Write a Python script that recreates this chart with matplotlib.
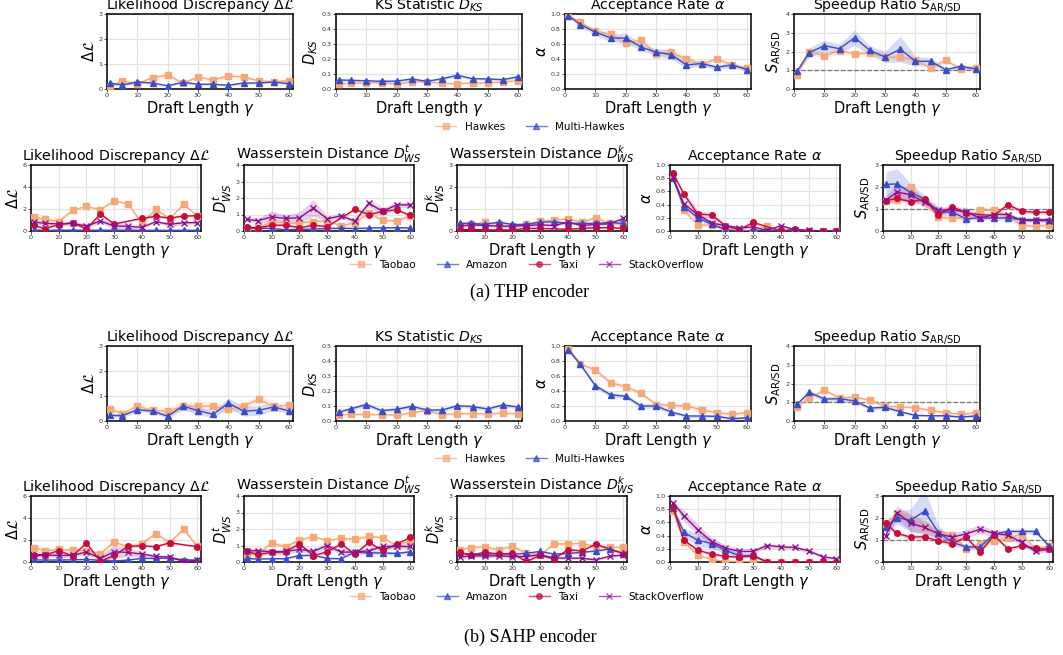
import numpy as np
import matplotlib
matplotlib.use("Agg")
import matplotlib.pyplot as plt
from matplotlib.lines import Line2D

nan = float("nan")
gamma = [1, 5, 10, 15, 20, 25, 30, 35, 40, 45, 50, 55, 60]
xticks = [0, 10, 20, 30, 40, 50, 60]

# ---------------- THP encoder, synthetic (Hawkes / Multi-Hawkes) ----------------
thp_syn_dl_hawkes = [0.10, 0.33, 0.20, 0.46, 0.55, 0.24, 0.47, 0.37, 0.52, 0.48, 0.32, 0.30, 0.33]
thp_syn_dl_hawkes_sd = [0.04, 0.08, 0.08, 0.10, 0.12, 0.06, 0.08, 0.06, 0.12, 0.08, 0.06, 0.05, 0.05]
thp_syn_dl_multi = [0.24, 0.16, 0.28, 0.24, 0.13, 0.27, 0.19, 0.19, 0.15, 0.24, 0.24, 0.28, 0.21]
thp_syn_dl_multi_sd = [0.05, 0.05, 0.06, 0.04, 0.04, 0.05, 0.04, 0.04, 0.04, 0.04, 0.04, 0.04, 0.04]

thp_syn_ks_hawkes = [0.033, 0.040, 0.040, 0.042, 0.033, 0.049, 0.047, 0.038, 0.036, 0.040, 0.042, 0.047, 0.055]
thp_syn_ks_hawkes_sd = [0.006, 0.006, 0.006, 0.006, 0.006, 0.007, 0.006, 0.006, 0.006, 0.006, 0.006, 0.006, 0.008]
thp_syn_ks_multi = [0.060, 0.058, 0.055, 0.051, 0.053, 0.067, 0.051, 0.069, 0.091, 0.069, 0.067, 0.062, 0.082]
thp_syn_ks_multi_sd = [0.008, 0.008, 0.008, 0.007, 0.007, 0.008, 0.007, 0.008, 0.010, 0.008, 0.008, 0.008, 0.010]

thp_syn_acc_hawkes = [0.98, 0.89, 0.77, 0.73, 0.61, 0.65, 0.47, 0.49, 0.40, 0.33, 0.40, 0.32, 0.28]
thp_syn_acc_hawkes_sd = [0.01, 0.02, 0.03, 0.03, 0.04, 0.04, 0.04, 0.05, 0.05, 0.03, 0.03, 0.03, 0.03]
thp_syn_acc_multi = [0.98, 0.86, 0.76, 0.68, 0.68, 0.56, 0.49, 0.46, 0.32, 0.34, 0.29, 0.32, 0.26]
thp_syn_acc_multi_sd = [0.01, 0.03, 0.04, 0.05, 0.07, 0.04, 0.05, 0.06, 0.04, 0.04, 0.03, 0.03, 0.03]

thp_syn_sp_hawkes = [0.76, 2.00, 1.76, 2.04, 1.87, 1.92, 1.71, 1.69, 1.56, 1.12, 1.53, 1.07, 1.12]
thp_syn_sp_hawkes_sd = [0.08, 0.15, 0.15, 0.18, 0.15, 0.15, 0.12, 0.12, 0.15, 0.10, 0.12, 0.08, 0.10]
thp_syn_sp_multi = [0.94, 1.94, 2.31, 2.15, 2.74, 2.06, 1.71, 2.13, 1.48, 1.48, 1.03, 1.21, 1.07]
thp_syn_sp_multi_sd = [0.10, 0.25, 0.30, 0.25, 0.40, 0.25, 0.30, 0.70, 0.25, 0.20, 0.10, 0.12, 0.10]

# ---------------- THP encoder, real data ----------------
thp_real_dl_taobao = [1.27, 1.06, 0.85, 1.88, 2.24, 1.94, 2.73, 2.48, 0.70, 1.97, 1.12, 2.42, 1.36]
thp_real_dl_taobao_sd = [0.25, 0.45, 0.30, 0.15, 0.10, 0.10, 0.10, 0.10, 0.15, 0.15, 0.10, 0.10, 0.10]
thp_real_dl_amazon = [0.10, 0.06, 0.08, 0.08, 0.06, 0.08, 0.06, 0.08, 0.06, 0.06, 0.06, 0.06, 0.06]
thp_real_dl_amazon_sd = [0.04, 0.04, 0.04, 0.04, 0.04, 0.04, 0.04, 0.04, 0.04, 0.04, 0.04, 0.04, 0.04]
thp_real_dl_taxi = [0.52, 0.21, 0.58, 0.76, 0.18, 1.55, 0.64, nan, 1.15, 1.33, 1.18, 1.36, 1.39]
thp_real_dl_taxi_sd = [0.15, 0.10, 0.10, 0.10, 0.10, 0.15, 0.10, 0.10, 0.10, 0.10, 0.10, 0.10, 0.10]
thp_real_dl_so = [0.82, 0.70, 0.64, 0.70, 0.45, 0.91, 0.45, 0.42, 0.33, 0.85, 0.60, 0.76, 0.76]
thp_real_dl_so_sd = [0.15, 0.15, 0.15, 0.20, 0.20, 0.15, 0.30, 0.20, 0.15, 0.10, 0.20, 0.15, 0.10]

thp_real_wst_taobao = [0.16, 0.16, 0.57, 0.47, 0.49, 0.57, 0.62, 0.31, 0.51, 1.09, 0.64, 0.62, 0.90]
thp_real_wst_taobao_sd = [0.10, 0.10, 0.12, 0.10, 0.10, 0.10, 0.10, 0.10, 0.15, 0.15, 0.10, 0.10, 0.10]
thp_real_wst_amazon = [0.15, 0.18, 0.15, 0.08, 0.10, 0.12, 0.15, 0.17, 0.15, 0.18, 0.20, 0.20, 0.18]
thp_real_wst_amazon_sd = [0.05, 0.05, 0.05, 0.05, 0.05, 0.05, 0.05, 0.05, 0.05, 0.05, 0.06, 0.06, 0.05]
thp_real_wst_taxi = [0.25, 0.18, 0.35, 0.35, 0.20, 0.35, 0.27, nan, 1.31, 1.00, 1.19, 1.29, 0.94]
thp_real_wst_taxi_sd = [0.08, 0.08, 0.08, 0.08, 0.08, 0.08, 0.08, 0.08, 0.08, 0.08, 0.08, 0.08, 0.08]
thp_real_wst_so = [0.70, 0.62, 0.86, 0.76, 0.80, 1.39, 0.74, 0.92, 0.60, 1.68, 1.19, 1.58, 1.58]
thp_real_wst_so_sd = [0.15, 0.15, 0.35, 0.20, 0.35, 0.50, 0.15, 0.15, 0.10, 0.20, 0.25, 0.15, 0.15]

thp_real_wsk_taobao = [0.25, 0.30, 0.40, 0.30, 0.20, 0.30, 0.45, 0.50, 0.55, 0.40, 0.60, 0.35, 0.30]
thp_real_wsk_taobao_sd = [0.06, 0.06, 0.06, 0.06, 0.06, 0.06, 0.08, 0.08, 0.08, 0.06, 0.08, 0.06, 0.06]
thp_real_wsk_amazon = [0.35, 0.35, 0.30, 0.40, 0.30, 0.30, 0.40, 0.42, 0.35, 0.35, 0.35, 0.38, 0.35]
thp_real_wsk_amazon_sd = [0.05, 0.05, 0.05, 0.05, 0.05, 0.05, 0.05, 0.05, 0.05, 0.05, 0.05, 0.05, 0.05]
thp_real_wsk_taxi = [0.05, 0.08, 0.05, 0.05, 0.05, 0.12, 0.12, nan, 0.08, 0.12, 0.15, 0.15, 0.12]
thp_real_wsk_taxi_sd = [0.04, 0.04, 0.04, 0.04, 0.04, 0.04, 0.04, 0.04, 0.04, 0.04, 0.04, 0.04, 0.04]
thp_real_wsk_so = [0.22, 0.28, 0.25, 0.22, 0.22, 0.25, 0.28, 0.25, 0.40, 0.25, 0.30, 0.33, 0.57]
thp_real_wsk_so_sd = [0.06, 0.06, 0.06, 0.06, 0.06, 0.06, 0.06, 0.06, 0.06, 0.06, 0.06, 0.06, 0.06]

thp_real_acc_taobao = [0.85, 0.32, 0.09, 0.09, 0.05, 0.02, 0.00, 0.08, 0.00, 0.00, 0.00, 0.00, 0.00]
thp_real_acc_taobao_sd = [0.03, 0.04, 0.02, 0.02, 0.02, 0.01, 0.01, 0.02, 0.01, 0.01, 0.01, 0.01, 0.01]
thp_real_acc_amazon = [0.80, 0.37, 0.20, 0.10, 0.02, 0.00, 0.00, 0.00, 0.00, 0.00, 0.00, 0.00, 0.00]
thp_real_acc_amazon_sd = [0.04, 0.05, 0.04, 0.03, 0.02, 0.01, 0.01, 0.01, 0.01, 0.01, 0.01, 0.01, 0.01]
thp_real_acc_taxi = [0.88, 0.56, 0.26, 0.24, 0.08, 0.02, 0.13, nan, 0.00, 0.03, 0.00, 0.00, 0.00]
thp_real_acc_taxi_sd = [0.02, 0.05, 0.05, 0.04, 0.03, 0.02, 0.02, 0.02, 0.01, 0.01, 0.01, 0.01, 0.01]
thp_real_acc_so = [0.82, 0.41, 0.25, 0.12, 0.08, 0.05, 0.06, 0.01, 0.08, 0.02, 0.01, 0.00, 0.00]
thp_real_acc_so_sd = [0.03, 0.04, 0.04, 0.03, 0.03, 0.02, 0.03, 0.01, 0.02, 0.01, 0.01, 0.01, 0.01]

thp_real_sp_taobao = [1.35, 1.40, 2.00, 1.30, 0.62, 0.58, 0.60, 0.95, 0.95, 0.68, 0.25, 0.22, 0.27]
thp_real_sp_taobao_sd = [0.10, 0.10, 0.10, 0.15, 0.10, 0.10, 0.10, 0.10, 0.10, 0.10, 0.08, 0.08, 0.08]
thp_real_sp_amazon = [2.12, 2.14, 1.75, 1.45, 0.88, 0.85, 0.55, 0.60, 0.58, 0.60, 0.52, 0.52, 0.52]
thp_real_sp_amazon_sd = [0.55, 0.70, 0.40, 0.20, 0.20, 0.15, 0.10, 0.10, 0.10, 0.10, 0.08, 0.08, 0.08]
thp_real_sp_taxi = [1.38, 1.48, 1.33, 1.45, 0.72, 1.10, 0.80, nan, 0.70, 1.20, 0.90, 0.85, 0.85]
thp_real_sp_taxi_sd = [0.10, 0.10, 0.10, 0.10, 0.10, 0.10, 0.10, 0.10, 0.10, 0.10, 0.08, 0.08, 0.08]
thp_real_sp_so = [1.40, 1.77, 1.65, 1.30, 0.95, 0.95, 0.88, 0.58, 0.75, 0.75, 0.48, 0.48, 0.47]
thp_real_sp_so_sd = [0.20, 0.35, 0.30, 0.20, 0.15, 0.15, 0.20, 0.10, 0.10, 0.10, 0.08, 0.08, 0.08]

# ---------------- SAHP encoder, synthetic ----------------
sahp_syn_dl_hawkes = [0.49, 0.29, 0.59, 0.43, 0.39, 0.59, 0.59, 0.59, 0.47, 0.59, 0.87, 0.59, 0.63]
sahp_syn_dl_hawkes_sd = [0.10, 0.10, 0.12, 0.12, 0.15, 0.20, 0.20, 0.15, 0.15, 0.15, 0.12, 0.12, 0.10]
sahp_syn_dl_multi = [0.23, 0.21, 0.45, 0.40, 0.19, 0.60, 0.41, 0.27, 0.72, 0.39, 0.43, 0.56, 0.40]
sahp_syn_dl_multi_sd = [0.08, 0.08, 0.08, 0.08, 0.08, 0.15, 0.15, 0.15, 0.20, 0.20, 0.20, 0.15, 0.08]

sahp_syn_ks_hawkes = [0.042, 0.044, 0.044, 0.042, 0.038, 0.056, 0.069, 0.042, 0.049, 0.049, 0.047, 0.053, 0.047]
sahp_syn_ks_hawkes_sd = [0.008, 0.008, 0.008, 0.008, 0.008, 0.008, 0.008, 0.008, 0.008, 0.008, 0.008, 0.008, 0.008]
sahp_syn_ks_multi = [0.060, 0.082, 0.110, 0.069, 0.078, 0.098, 0.073, 0.073, 0.102, 0.096, 0.080, 0.107, 0.093]
sahp_syn_ks_multi_sd = [0.010, 0.012, 0.014, 0.012, 0.012, 0.012, 0.010, 0.012, 0.012, 0.012, 0.012, 0.012, 0.012]

sahp_syn_acc_hawkes = [0.98, 0.76, 0.68, 0.51, 0.46, 0.37, 0.22, 0.21, 0.20, 0.15, 0.11, 0.09, 0.11]
sahp_syn_acc_hawkes_sd = [0.01, 0.03, 0.03, 0.03, 0.03, 0.03, 0.03, 0.03, 0.03, 0.03, 0.03, 0.03, 0.03]
sahp_syn_acc_multi = [0.95, 0.76, 0.47, 0.35, 0.33, 0.20, 0.20, 0.12, 0.067, 0.067, 0.062, 0.03, 0.044]
sahp_syn_acc_multi_sd = [0.02, 0.03, 0.03, 0.03, 0.03, 0.03, 0.03, 0.02, 0.02, 0.02, 0.02, 0.02, 0.02]

sahp_syn_sp_hawkes = [0.76, 1.23, 1.64, 1.23, 1.28, 1.10, 0.78, 0.75, 0.71, 0.57, 0.44, 0.36, 0.43]
sahp_syn_sp_hawkes_sd = [0.08, 0.10, 0.12, 0.10, 0.10, 0.10, 0.10, 0.08, 0.08, 0.08, 0.08, 0.08, 0.08]
sahp_syn_sp_multi = [0.89, 1.53, 1.17, 1.19, 1.07, 0.69, 0.73, 0.50, 0.30, 0.28, 0.28, 0.21, 0.27]
sahp_syn_sp_multi_sd = [0.08, 0.12, 0.12, 0.12, 0.10, 0.10, 0.10, 0.08, 0.06, 0.06, 0.06, 0.06, 0.06]

# ---------------- SAHP encoder, real data ----------------
sahp_real_dl_taobao = [1.30, 1.02, 1.14, 1.08, 1.02, 0.75, 1.84, 1.33, 1.66, 2.59, 1.75, 2.98, 1.42]
sahp_real_dl_taobao_sd = [0.30, 0.30, 0.20, 0.20, 0.20, 0.15, 0.20, 0.20, 0.20, 0.20, 0.25, 0.20, 0.20]
sahp_real_dl_amazon = [0.20, 0.18, 0.18, 0.20, 0.24, 0.15, 0.09, 0.18, 0.33, 0.33, 0.36, 0.20, 0.18]
sahp_real_dl_amazon_sd = [0.06, 0.06, 0.06, 0.06, 0.06, 0.06, 0.06, 0.06, 0.06, 0.06, 0.06, 0.06, 0.06]
sahp_real_dl_taxi = [0.66, 0.66, 1.02, 0.57, 1.72, 0.06, 0.60, 1.42, 1.48, 1.39, 1.75, nan, 1.39]
sahp_real_dl_taxi_sd = [0.10, 0.10, 0.10, 0.10, 0.10, 0.10, 0.10, 0.10, 0.10, 0.10, 0.10, 0.10, 0.10]
sahp_real_dl_so = [0.57, 0.63, 0.60, 0.60, 0.90, 0.33, 0.93, 0.87, 0.72, 0.51, 0.45, 0.06, 0.15]
sahp_real_dl_so_sd = [0.20, 0.20, 0.20, 0.20, 0.20, 0.30, 0.60, 0.40, 0.20, 0.15, 0.15, 0.05, 0.05]

sahp_real_wst_taobao = [0.44, 0.48, 1.15, 0.92, 1.33, 1.53, 1.29, 1.43, 1.37, 1.55, 1.47, 1.00, 1.29]
sahp_real_wst_taobao_sd = [0.15, 0.15, 0.15, 0.15, 0.20, 0.10, 0.10, 0.10, 0.20, 0.10, 0.10, 0.10, 0.10]
sahp_real_wst_amazon = [0.22, 0.18, 0.20, 0.20, 0.40, 0.40, 0.22, 0.20, 0.60, 0.56, 0.55, 0.52, 0.62]
sahp_real_wst_amazon_sd = [0.05, 0.05, 0.05, 0.05, 0.06, 0.06, 0.05, 0.05, 0.10, 0.10, 0.10, 0.10, 0.10]
sahp_real_wst_taxi = [0.64, 0.46, 0.58, 0.62, 1.11, 0.38, 0.62, 1.09, 0.48, 1.19, 0.70, 1.09, 1.49]
sahp_real_wst_taxi_sd = [0.08, 0.08, 0.08, 0.08, 0.08, 0.08, 0.08, 0.08, 0.08, 0.08, 0.08, 0.08, 0.08]
sahp_real_wst_so = [0.68, 0.68, 0.62, 0.64, 0.76, 0.64, 1.00, 0.60, 0.60, 0.68, 0.94, 0.94, 0.94]
sahp_real_wst_so_sd = [0.15, 0.15, 0.15, 0.15, 0.15, 0.15, 0.15, 0.15, 0.15, 0.15, 0.15, 0.15, 0.15]

sahp_real_wsk_taobao = [0.55, 0.65, 0.70, 0.55, 0.72, 0.40, 0.32, 0.81, 0.83, 0.84, 0.71, 0.66, 0.68]
sahp_real_wsk_taobao_sd = [0.10, 0.10, 0.10, 0.10, 0.10, 0.10, 0.10, 0.08, 0.08, 0.08, 0.08, 0.08, 0.08]
sahp_real_wsk_amazon = [0.40, 0.35, 0.35, 0.40, 0.35, 0.40, 0.48, 0.36, 0.39, 0.44, 0.50, 0.59, 0.39]
sahp_real_wsk_amazon_sd = [0.05, 0.05, 0.05, 0.05, 0.05, 0.05, 0.05, 0.05, 0.05, 0.05, 0.05, 0.05, 0.05]
sahp_real_wsk_taxi = [0.45, 0.30, 0.45, 0.35, 0.40, 0.02, 0.30, 0.15, 0.56, 0.50, 0.81, nan, 0.38]
sahp_real_wsk_taxi_sd = [0.06, 0.06, 0.06, 0.06, 0.06, 0.06, 0.06, 0.06, 0.06, 0.06, 0.06, 0.06, 0.06]
sahp_real_wsk_so = [0.22, 0.28, 0.28, 0.28, 0.25, 0.25, 0.33, 0.18, 0.18, 0.17, 0.10, 0.26, 0.32]
sahp_real_wsk_so_sd = [0.08, 0.08, 0.08, 0.08, 0.08, 0.08, 0.08, 0.06, 0.06, 0.06, 0.05, 0.06, 0.06]

sahp_real_acc_taobao = [0.78, 0.31, 0.10, 0.04, 0.01, 0.005, 0.00, 0.00, 0.00, 0.00, 0.00, 0.00, 0.00]
sahp_real_acc_taobao_sd = [0.03, 0.03, 0.02, 0.01, 0.01, 0.01, 0.01, 0.01, 0.01, 0.01, 0.01, 0.01, 0.01]
sahp_real_acc_amazon = [0.82, 0.45, 0.33, 0.28, 0.18, 0.09, 0.10, 0.00, 0.00, 0.00, 0.00, 0.00, 0.00]
sahp_real_acc_amazon_sd = [0.03, 0.06, 0.10, 0.08, 0.05, 0.03, 0.03, 0.01, 0.01, 0.01, 0.01, 0.01, 0.01]
sahp_real_acc_taxi = [0.83, 0.33, 0.18, 0.12, 0.085, 0.075, 0.095, 0.00, 0.00, 0.00, 0.00, 0.00, 0.00]
sahp_real_acc_taxi_sd = [0.03, 0.03, 0.02, 0.02, 0.02, 0.02, 0.02, 0.01, 0.01, 0.01, 0.01, 0.01, 0.01]
sahp_real_acc_so = [0.90, 0.70, 0.49, 0.31, 0.21, 0.16, 0.16, 0.25, 0.23, 0.22, 0.17, 0.08, 0.05]
sahp_real_acc_so_sd = [0.03, 0.08, 0.08, 0.06, 0.05, 0.05, 0.04, 0.03, 0.03, 0.03, 0.03, 0.02, 0.02]

sahp_real_sp_taobao = [1.75, 2.20, 1.90, 1.60, 1.30, 1.25, 0.60, 0.80, 0.95, 1.10, 1.25, 0.60, 0.72]
sahp_real_sp_taobao_sd = [0.15, 0.20, 0.15, 0.15, 0.10, 0.10, 0.10, 0.10, 0.10, 0.10, 0.10, 0.10, 0.10]
sahp_real_sp_amazon = [1.58, 2.02, 1.90, 2.31, 1.34, 0.89, 0.69, 0.68, 1.27, 1.39, 1.39, 1.39, 0.71]
sahp_real_sp_amazon_sd = [0.20, 0.30, 0.50, 1.00, 0.30, 0.15, 0.10, 0.15, 0.15, 0.10, 0.10, 0.10, 0.10]
sahp_real_sp_taxi = [1.76, 1.30, 1.13, 1.15, 0.95, 0.84, 1.13, 0.44, 1.22, 0.60, 0.74, 0.63, 0.57]
sahp_real_sp_taxi_sd = [0.10, 0.10, 0.10, 0.10, 0.08, 0.08, 0.08, 0.08, 0.08, 0.08, 0.08, 0.08, 0.08]
sahp_real_sp_so = [1.20, 2.25, 1.76, 1.57, 1.28, 1.13, 1.28, 1.49, 1.30, 1.22, 0.89, 0.48, 0.60]
sahp_real_sp_so_sd = [0.20, 0.30, 0.40, 0.30, 0.20, 0.20, 0.20, 0.20, 0.15, 0.15, 0.15, 0.10, 0.10]

# ---------------- styling ----------------
C_OR = "#F5A878"
C_BL = "#3B4CC8"
C_RD = "#C80C3C"
C_PU = "#8E0F8E"

syn_names = ["Hawkes", "Multi-Hawkes"]
syn_styles = [(C_OR, "s"), (C_BL, "^")]
real_names = ["Taobao", "Amazon", "Taxi", "StackOverflow"]
real_styles = [(C_OR, "s"), (C_BL, "^"), (C_RD, "o"), (C_PU, "x")]

W, H = 1063, 655
fig = plt.figure(figsize=(W / 100, H / 100), dpi=100)
plt.rcParams["mathtext.fontset"] = "dejavusans"

T_DL = r"Likelihood Discrepancy $\Delta\mathcal{L}$"
T_KS = r"KS Statistic $D_{KS}$"
T_AC = r"Acceptance Rate $\alpha$"
T_SP = r"Speedup Ratio $S_{\mathrm{AR/SD}}$"
T_WT = r"Wasserstein Distance $D_{WS}^{t}$"
T_WK = r"Wasserstein Distance $D_{WS}^{k}$"
Y_DL = r"$\Delta\mathcal{L}$"
Y_KS = r"$D_{KS}$"
Y_AC = r"$\alpha$"
Y_SP = r"$S_{\mathrm{AR/SD}}$"
Y_WT = r"$D_{WS}^{t}$"
Y_WK = r"$D_{WS}^{k}$"


def make_ax(left, top, bottom, width):
    return fig.add_axes([left / W, 1 - bottom / H, width / W, (bottom - top) / H])


def panel(ax, series, styles, ylim, yticks, title, ylabel, hline=False):
    x = np.array(gamma, dtype=float)
    for (vals, sd), (col, mk) in zip(series, styles):
        y = np.array(vals, dtype=float)
        s = np.array(sd, dtype=float)
        m = np.isfinite(y)
        ax.fill_between(x[m], (y - s)[m], (y + s)[m], color=col, alpha=0.2, lw=0, zorder=2)
        ax.plot(x[m], y[m], color=col, marker=mk, ms=4 if mk != "x" else 3.8,
                mew=1.0, lw=1.0, zorder=3)
    if hline:
        ax.axhline(1.0, color="#777777", ls="--", lw=0.9, zorder=2.5)
    ax.set_xlim(0, 61.3)
    ax.set_ylim(*ylim)
    ax.set_xticks(xticks)
    ax.set_yticks(yticks)
    ax.grid(True, color="#e3e3e3", lw=0.9, zorder=0)
    ax.set_axisbelow(True)
    ax.tick_params(labelsize=4.6, length=2, width=0.6, pad=1.2, colors="#333333")
    for sp in ax.spines.values():
        sp.set_linewidth(1.1)
    ax.set_title(title, fontsize=10.2, pad=2)
    ax.set_ylabel(ylabel, fontsize=10.5, labelpad=1)
    ax.set_xlabel(r"Draft Length $\gamma$", fontsize=10.5, labelpad=0.5)


def legend(names, styles, ypix, xc=530):
    handles = [Line2D([], [], color=c, marker=m, ms=4, lw=1.0, alpha=0.7) for c, m in styles]
    fig.legend(handles, names, loc="center", bbox_to_anchor=(xc / W, 1 - ypix / H),
               ncol=len(names), frameon=False, fontsize=7.5, handlelength=2.0,
               columnspacing=2.0, handletextpad=0.8)


syn_lefts = [107, 336, 565, 794]
real_lefts = [31, 244, 457, 670, 883]

g = globals()
rows_syn = [
    (14, 89, "thp"),
    (346, 421, "sahp"),
]
for top, bot, enc in rows_syn:
    specs = [
        ("dl", (0, 3), [0, 1, 2, 3], T_DL, Y_DL, False),
        ("ks", (0, 0.5), [0, 0.1, 0.2, 0.3, 0.4, 0.5], T_KS, Y_KS, False),
        ("acc", (0, 1.0), [0, 0.2, 0.4, 0.6, 0.8, 1.0], T_AC, Y_AC, False),
        ("sp", (0, 4), [0, 1, 2, 3, 4], T_SP, Y_SP, True),
    ]
    for left, (key, yl, yt, tt, yy, hl) in zip(syn_lefts, specs):
        ax = make_ax(left, top, bot, 186)
        series = [(g[f"{enc}_syn_{key}_{n}"], g[f"{enc}_syn_{key}_{n}_sd"]) for n in ["hawkes", "multi"]]
        panel(ax, series, syn_styles, yl, yt, tt, yy, hl)
        if key in ("ks", "acc"):
            ax.set_yticklabels([f"{v:.1f}" for v in yt])

rows_real = [
    (165, 231, "thp"),
    (496, 562, "sahp"),
]
for top, bot, enc in rows_real:
    specs = [
        ("dl", (0, 6), [0, 2, 4, 6], T_DL, Y_DL, False),
        ("wst", (0, 4), [0, 1, 2, 3, 4], T_WT, Y_WT, False),
        ("wsk", (0, 3), [0, 1, 2, 3], T_WK, Y_WK, False),
        ("acc", (0, 1.0), [0, 0.2, 0.4, 0.6, 0.8, 1.0], T_AC, Y_AC, False),
        ("sp", (0, 3), [0, 1, 2, 3], T_SP, Y_SP, True),
    ]
    for left, (key, yl, yt, tt, yy, hl) in zip(real_lefts, specs):
        ax = make_ax(left, top, bot, 170)
        series = [(g[f"{enc}_real_{key}_{n}"], g[f"{enc}_real_{key}_{n}_sd"])
                  for n in ["taobao", "amazon", "taxi", "so"]]
        panel(ax, series, real_styles, yl, yt, tt, yy, hl)
        if key == "acc":
            ax.set_yticklabels([f"{v:.1f}" for v in yt])

legend(syn_names, syn_styles, 127)
legend(real_names, real_styles, 265, 527)
legend(syn_names, syn_styles, 459)
legend(real_names, real_styles, 597, 527)

fig.text(530 / W, 1 - 292 / H, "(a) THP encoder", ha="center", va="center",
         fontsize=13, family="Liberation Serif")
fig.text(530 / W, 1 - 637 / H, "(b) SAHP encoder", ha="center", va="center",
         fontsize=13, family="Liberation Serif")

fig.savefig("out.png", dpi=100)
